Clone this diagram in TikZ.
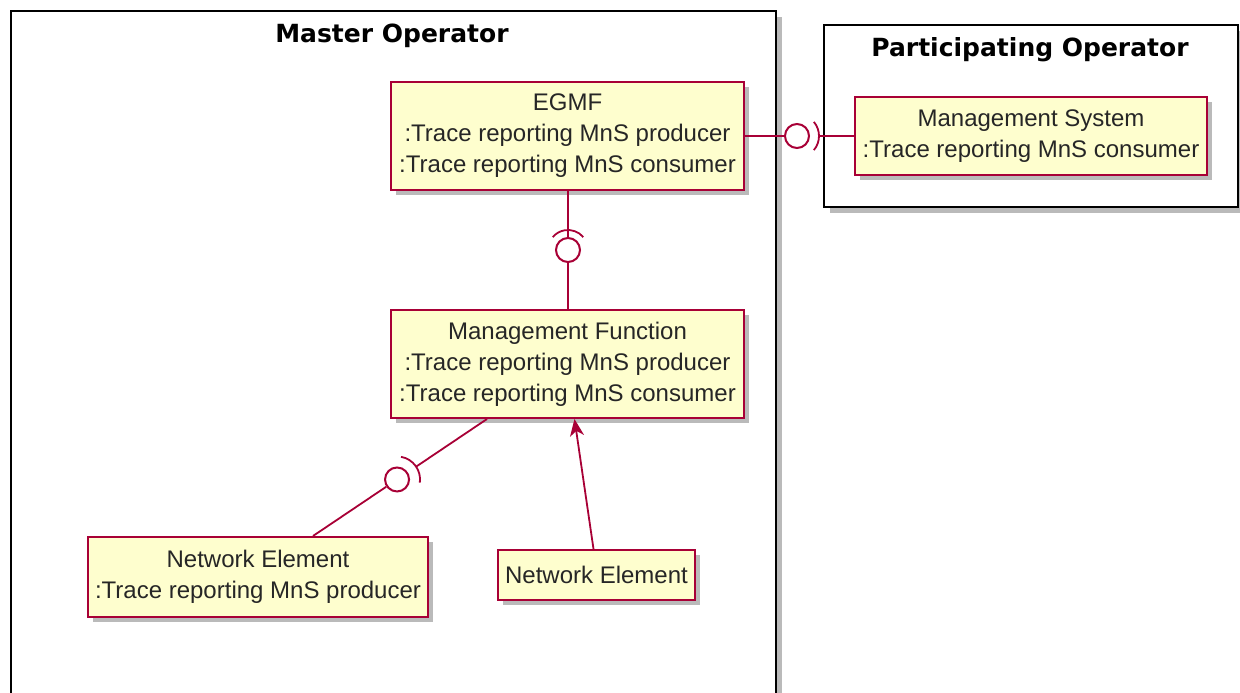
\documentclass[tikz,border=0pt]{standalone}
\usepackage{fontspec}
\setmainfont{Liberation Sans}
\newfontfamily\titlefont{DejaVu Sans}
\usetikzlibrary{arrows.meta,shadows,calc}
\definecolor{umlred}{HTML}{A80036}
\definecolor{umlfill}{HTML}{FEFECE}

\begin{document}
\begin{tikzpicture}[x=1pt,y=1pt,
    comp/.style={draw=umlred, fill=umlfill, line width=2pt, align=center, inner sep=0pt,
      font=\fontsize{24}{31}\selectfont, text=black!85,
      drop shadow={shadow xshift=5pt, shadow yshift=-5pt, opacity=.45, fill=black!60}},
    frame/.style={draw=black, fill=white, line width=2pt, inner sep=0pt, anchor=north west,
      drop shadow={shadow xshift=6pt, shadow yshift=-6pt, opacity=.45, fill=black!60}},
    frametitle/.style={font=\titlefont\bfseries\fontsize{25}{30}\selectfont},
    lolly/.style={circle, draw=umlred, line width=2pt, minimum size=24pt, inner sep=0pt},
    link/.style={umlred, line width=1.8pt}]
  \useasboundingbox (0,0) rectangle (1240,693);
  % operator frames
  \node[frame, minimum width=765, minimum height=685] (master) at (10,683) {};
  \node[frametitle] (mastertitle) at (392,657) {Master Operator};
  \node[frame, minimum width=414, minimum height=182] (partop) at (823,669) {};
  \node[frametitle] (partoptitle) at (1030,643) {Participating Operator};
  % components
  \node[comp, minimum width=353, minimum height=108] (egmf) at (567.5,557)
    {EGMF\\:Trace reporting MnS producer\\:Trace reporting MnS consumer};
  \node[comp, minimum width=353, minimum height=108] (mf) at (567.5,329)
    {Management Function\\:Trace reporting MnS producer\\:Trace reporting MnS consumer};
  \node[comp, minimum width=340, minimum height=80] (ne1) at (258,116)
    {Network Element\\:Trace reporting MnS producer};
  \node[comp, minimum width=197, minimum height=50] (ne2) at (596.5,118) {Network Element};
  \node[comp, minimum width=352, minimum height=78] (ms) at (1031,557)
    {Management System\\:Trace reporting MnS consumer};
  % EGMF -- Management System
  \node[lolly] (lolA) at (797,557) {};
  \coordinate (sockA) at ($(lolA)+(22,0)$);
  \draw[link] (egmf.east) -- (lolA);
  \draw[link] (lolA) ++(-40:22) arc[start angle=-40, end angle=40, radius=22];
  \draw[link] (sockA) -- (ms.west);
  % EGMF -- Management Function
  \node[lolly] (lolB) at (568,443) {};
  \draw[link] (lolB |- egmf.south) -- (lolB);
  \draw[link] (lolB) ++(40:20) arc[start angle=40, end angle=140, radius=20];
  \draw[link] (lolB) -- (lolB |- mf.north);
  % Network Element -- Management Function
  \coordinate (ne1top) at ([xshift=55pt]ne1.north);
  \coordinate (mfleft) at ([xshift=-80.5pt]mf.south);
  \node[lolly] (lolC) at ($(ne1top)!0.483!(mfleft)$) {};
  \coordinate (sockC) at ($(lolC)!23pt!(mfleft)$);
  \draw[link] (ne1top) -- (lolC);
  \draw[link] (lolC) ++(-8:23) arc[start angle=-8, end angle=80, radius=23];
  \draw[link] (sockC) -- (mfleft);
  % Network Element -> Management Function
  \draw[link, -{Stealth[length=17pt, width=14pt, inset=5pt]}]
    ([xshift=-3pt]ne2.north) -- ([xshift=7pt]mf.south);
\end{tikzpicture}
\end{document}
